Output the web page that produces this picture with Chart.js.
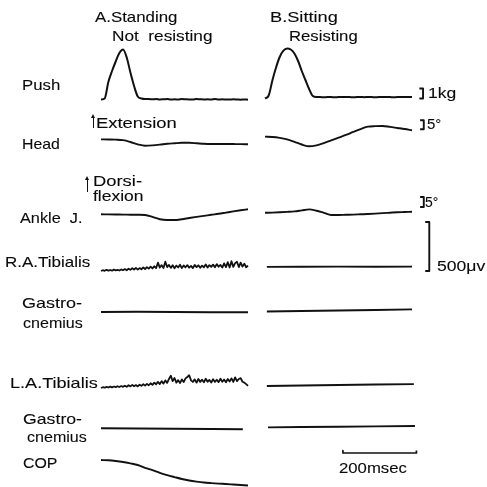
<!DOCTYPE html>
<html>
<head>
<meta charset="utf-8">
<script src="https://cdn.jsdelivr.net/npm/chart.js@4.4.1/dist/chart.umd.min.js"></script>
<style>
  html, body { margin: 0; padding: 0; background: #fff; }
  #wrap { position: relative; width: 487px; height: 487px; overflow: hidden; }
  #traces { position: absolute; left: 0; top: 0; }
  .lbl { position: absolute; font-family: "Liberation Sans", Arial, sans-serif; font-size: 15px; line-height: 15px;
         color: #0a0a0a; white-space: pre; transform-origin: 0 0; -webkit-text-stroke: 0.1px #0a0a0a; }
  .arw { position: absolute; width: 1.4px; background: #111; }
  .arw:before { content: ""; position: absolute; left: -2px; top: -3px; width: 0; height: 0;
         border-left: 2.7px solid transparent; border-right: 2.7px solid transparent; border-bottom: 4px solid #111; }
</style>
</head>
<body>
<div id="wrap"><canvas id="traces" width="487" height="487"></canvas></div>
<script>
// time (ms) in each panel, 0 = start of recording
var stepPush = 10, stepSlow = 20, stepEmg = 5;

// Push force (kg), sampled every 10 ms
var pushA = [-0.1, 0.0, 1.65, 2.75, 3.7, 4.55, 4.9, 4.1, 2.6, 1.25, 0.2, 0.0, -0.05, -0.05, -0.08, -0.05, -0.1, -0.08,
  -0.05, -0.1, -0.08, -0.1, -0.05, -0.08, -0.1, -0.1, -0.05, -0.08, -0.1, -0.08, -0.1, -0.05, -0.1, -0.08, -0.1,
  -0.1, -0.08, -0.1, -0.12, -0.1, -0.12];
var pushB = [0.0, 0.3, 1.8, 3.1, 4.15, 4.78, 5.0, 4.9, 4.5, 3.75, 2.75, 1.85, 0.95, 0.25, 0.15, 0.15, 0.12, 0.15,
  0.15, 0.12, 0.15, 0.15, 0.14, 0.15, 0.12, 0.15, 0.15, 0.13, 0.15, 0.15, 0.12, 0.15, 0.14, 0.15, 0.15, 0.12,
  0.15, 0.15, 0.14, 0.15, 0.15];

// Head angle (deg, extension up), every 20 ms
var headA = [0.35, 0.3, 0.2, -0.1, -1.1, -2.4, -3.2, -3.0, -2.6, -2.1, -1.8, -1.55, -1.55, -1.8, -2.1, -2.2, -2.2,
  -2.2, -2.25, -2.3, -2.4];
var headB = [1.85, 1.7, 1.2, 0.35, -1.0, -2.5, -3.5, -3.0, -1.75, -0.2, 1.3, 2.8, 4.5, 6.1, 7.45, 7.7, 7.8, 7.3,
  6.7, 6.1, 5.4];

// Ankle joint (deg, dorsiflexion up), every 20 ms
var ankleA = [-0.15, -0.2, -0.25, -0.3, -0.35, -0.4, -0.5, -1.4, -2.6, -3.0, -3.0, -2.6, -2.0, -1.45, -0.95, -0.4,
  0.1, 0.7, 1.3, 1.85, 2.35];
var ankleB = [0.6, 0.7, 0.85, 1.05, 1.3, 1.8, 2.3, 1.65, 0.6, -0.5, -0.5, -0.4, -0.3, -0.15, 0.0, 0.2, 0.45, 0.65,
  0.85, 1.0, 1.15];

// R. anterior tibialis EMG (uV), every 5 ms
var raTibA = [0, 8, 2, 12, 4, 10, 3, 14, 6, 12, 5, 16, 8,
  20, 8, 24, 12, 28, 15, 32, 14, 30, 18, 36, 20, 40, 24, 44, 26, 48, 30,
  85, 35, 60, 30, 95,
  40, 62, 32, 58, 28, 55, 36, 64, 30, 56, 38, 60, 34, 52, 30, 62, 40, 58, 33, 55, 38, 66, 35, 60, 42,
  65, 38, 70, 44, 62, 35, 78, 40, 90, 36, 100, 42, 80, 95, 40, 85, 45, 75, 38, 55];
// L. anterior tibialis EMG (uV), every 5 ms
var laTibA = [0, 8, 3, 12, 5, 14, 6, 15, 8, 18, 10, 20, 12,
  24, 12, 28, 16, 32, 18, 30, 16, 34, 22, 38, 24, 42, 28, 48, 32, 55, 38,
  62, 40, 70, 45, 78, 52, 92, 125, 70, 102, 55, 80, 50, 88, 60, 98, 112, 130, 78, 62,
  88, 55, 92, 62, 85, 58, 95, 64, 82, 56, 90, 62, 84, 60, 94, 64, 86, 58, 92, 66, 98, 62, 108, 70, 92, 100, 64,
  55, 40, 22];

// quiet EMG traces (uV) at a few times (ms)
var raTibBt = [5, 100, 200, 300, 400],  raTibB = [42, 44, 45, 44, 45];
var rGasAt  = [0, 100, 200, 300, 400],  rGasA  = [0, 2, 0, -2, -3];
var rGasBt  = [5, 100, 200, 300, 400],  rGasB  = [5, 10, 15, 20, 27];
var laTibBt = [5, 100, 200, 300, 405],  laTibB = [20, 25, 30, 35, 40];
var lGasAt  = [0, 100, 200, 300, 386],  lGasA  = [7, 5, 3, 0, -3];
var lGasBt  = [8, 100, 200, 300, 408],  lGasB  = [17, 20, 23, 27, 30];

// centre of pressure displacement (mm), every 20 ms
var copA = [0, -0.3, -1.0, -2.0, -3.4, -5.0, -7.8, -10.2, -12.8, -15.1, -17.1, -19.0, -20.5, -21.6, -22.5, -23.1,
  -23.6, -24.0, -24.5, -25.0, -25.5];

// calibration bars
var barKg = 1, barDeg = 5, barUv = 500, barMs = 200;

// ---- layout ----
var W = 487, H = 487;
var pxPerMs = 0.3675, originPx = 101, panelB = 446.3;
var ink = '#111';
var rows = {
  push:  { base: 98.5, gain: 10 },
  head:  { base: 140,  gain: 1.8 },
  ankle: { base: 214,  gain: 2 },
  ra:    { base: 271,  gain: 0.098 },
  rg:    { base: 312,  gain: 0.098 },
  la:    { base: 388,  gain: 0.098 },
  lg:    { base: 429,  gain: 0.098 },
  cop:   { base: 460,  gain: 1 }
};

function stepped(vals, step, off) {
  return vals.map(function (v, i) { return { x: i * step + off, y: v }; });
}
function timed(ts, vals, off) {
  return vals.map(function (v, i) { return { x: ts[i] + off, y: v }; });
}
function trace(row, pts, smooth, width) {
  return {
    data: pts, yAxisID: row, borderColor: ink, borderWidth: width || 1.9, pointRadius: 0, fill: false,
    tension: smooth ? 0.4 : 0, cubicInterpolationMode: smooth ? 'monotone' : 'default', borderJoinStyle: 'round'
  };
}
function bracket(row, t0, t1, lo, hi) {
  return trace(row, [{ x: panelB + t0, y: hi }, { x: panelB + t1, y: hi }, { x: panelB + t1, y: lo }, { x: panelB + t0, y: lo }], false, 1.9);
}

var datasets = [
  trace('push', stepped(pushA, stepPush, 0), true, 2),
  trace('push', stepped(pushB, stepPush, panelB), true, 2),
  trace('head', stepped(headA, stepSlow, 0), true),
  trace('head', stepped(headB, stepSlow, panelB), true),
  trace('ankle', stepped(ankleA, stepSlow, 0), true),
  trace('ankle', stepped(ankleB, stepSlow, panelB), true),
  trace('ra', stepped(raTibA, stepEmg, 0), false, 1.8),
  trace('ra', timed(raTibBt, raTibB, panelB), false),
  trace('rg', timed(rGasAt, rGasA, 0), false),
  trace('rg', timed(rGasBt, rGasB, panelB), false),
  trace('la', stepped(laTibA, stepEmg, 0), false, 1.8),
  trace('la', timed(laTibBt, laTibB, panelB), false),
  trace('lg', timed(lGasAt, lGasA, 0), false),
  trace('lg', timed(lGasBt, lGasB, panelB), false),
  trace('cop', stepped(copA, stepSlow, 0), true),
  bracket('push', 420, 430, 0, barKg),
  bracket('head', 422, 432, 6, 6 + barDeg),
  bracket('ankle', 422, 432, 3.5, 3.5 + barDeg),
  bracket('ra', 436, 447, 0, barUv),
  trace('cop', [{ x: panelB + 212, y: 9.5 }, { x: panelB + 212, y: 7 }, { x: panelB + 212 + barMs, y: 7 },
                { x: panelB + 212 + barMs, y: 9.5 }], false, 1.7)
];

var scales = {
  x: { type: 'linear', display: false, min: -originPx / pxPerMs, max: (W - originPx) / pxPerMs },
  y: { display: false }
};
Object.keys(rows).forEach(function (k) {
  var r = rows[k];
  scales[k] = { axis: 'y', type: 'linear', display: false, min: (r.base - H) / r.gain, max: r.base / r.gain };
});

new Chart(document.getElementById('traces').getContext('2d'), {
  type: 'line',
  data: { datasets: datasets },
  options: {
    responsive: false, animation: false, events: [],
    layout: { padding: 0 },
    scales: scales,
    plugins: { legend: { display: false }, tooltip: { enabled: false } }
  }
});

// text labels: [text, left, baseline, width]
var labels = [
  ['A.Standing', 95, 22, 82], ['Not  resisting', 112, 41, 101], ['B.Sitting', 270, 22, 68], ['Resisting', 289, 41, 69],
  ['Push', 22, 90, 38], ['1kg', 428, 98, 28], ['Extension', 96, 128, 81], ['Head', 22, 149, 38], ['5°', 427, 129, 14],
  ['Dorsi-', 93, 186, 49], ['flexion', 93, 201, 50], ['Ankle  J.', 20, 223, 63], ['5°', 425, 207, 13],
  ['R.A.Tibialis', 5, 267, 85], ['500μv', 437, 271, 48], ['Gastro-', 22, 308, 60], ['cnemius', 23, 328, 60],
  ['L.A.Tibialis', 10, 388, 88], ['Gastro-', 23, 424, 59], ['cnemius', 27, 442, 60], ['COP', 23, 468, 35],
  ['200msec', 339, 473, 68]
];
var wrap = document.getElementById('wrap');
labels.forEach(function (l) {
  var s = document.createElement('span');
  s.className = 'lbl';
  s.textContent = l[0];
  s.style.left = l[1] + 'px';
  s.style.top = (l[2] - 12.7) + 'px';
  wrap.appendChild(s);
  s.style.transform = 'scaleX(' + (l[3] / s.offsetWidth).toFixed(3) + ')';
});
[[93, 117, 11], [87, 179, 13]].forEach(function (a) {
  var d = document.createElement('div');
  d.className = 'arw';
  d.style.left = a[0] + 'px'; d.style.top = a[1] + 'px'; d.style.height = a[2] + 'px';
  wrap.appendChild(d);
});
</script>
</body>
</html>
